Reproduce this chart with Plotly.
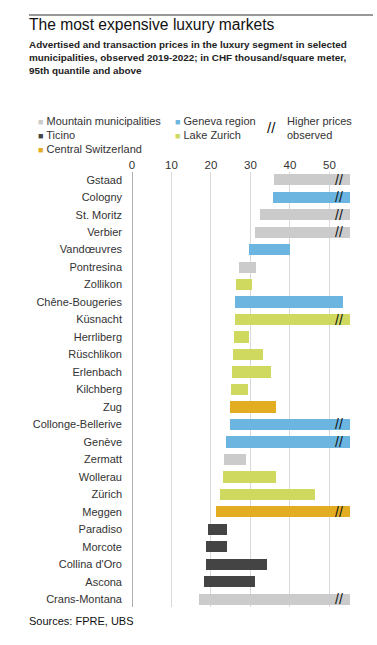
import plotly.graph_objects as go

municipalities = ["Gstaad", "Cologny", "St. Moritz", "Verbier", "Vandœuvres", "Pontresina",
                  "Zollikon", "Chêne-Bougeries", "Küsnacht", "Herrliberg", "Rüschlikon",
                  "Erlenbach", "Kilchberg", "Zug", "Collonge-Bellerive", "Genève", "Zermatt",
                  "Wollerau", "Zürich", "Meggen", "Paradiso", "Morcote", "Collina d'Oro",
                  "Ascona", "Crans-Montana"]
regions = ["Mountain", "Geneva", "Mountain", "Mountain", "Geneva", "Mountain",
           "Lake Zurich", "Geneva", "Lake Zurich", "Lake Zurich", "Lake Zurich",
           "Lake Zurich", "Lake Zurich", "Central", "Geneva", "Geneva", "Mountain",
           "Lake Zurich", "Lake Zurich", "Central", "Ticino", "Ticino", "Ticino",
           "Ticino", "Mountain"]
low = [36.0, 35.7, 32.5, 31.1, 29.7, 27.2, 26.3, 26.1, 26.0, 25.9, 25.6, 25.3, 25.1, 24.8,
       24.7, 23.8, 23.3, 23.0, 22.4, 21.3, 19.2, 18.7, 18.7, 18.3, 17.0]
high = [55.3, 55.3, 55.3, 55.3, 40.1, 31.5, 30.4, 53.4, 55.3, 29.5, 33.1, 35.3, 29.4, 36.5,
        55.3, 55.3, 28.9, 36.4, 46.3, 55.3, 24.1, 24.1, 34.1, 31.1, 55.3]
higher_observed = [True, True, True, True, False, False, False, False, True, False, False,
                   False, False, False, True, True, False, False, False, True, False, False,
                   False, False, True]

region_order = ["Mountain", "Geneva", "Ticino", "Lake Zurich", "Central"]
region_labels = {"Mountain": "Mountain municipalities", "Geneva": "Geneva region",
                 "Ticino": "Ticino", "Lake Zurich": "Lake Zurich", "Central": "Central Switzerland"}
region_colors = {"Mountain": "#cbcbcb", "Geneva": "#6cb5e0", "Ticino": "#444444",
                 "Lake Zurich": "#d0d95f", "Central": "#e3ad21"}

FONT = "Liberation Sans"
ML, MR, MT, MB = 132, 25, 172, 38
W, H = 377, 645
PW, PH = W - ML - MR, H - MT - MB

fig = go.Figure()
for r in region_order:
    idx = [i for i, g in enumerate(regions) if g == r]
    fig.add_trace(go.Bar(
        y=[municipalities[i] for i in idx],
        x=[high[i] - low[i] for i in idx],
        base=[low[i] for i in idx],
        orientation="h", width=0.64,
        marker=dict(color=region_colors[r], line=dict(width=0)),
        name=region_labels[r], showlegend=False, hoverinfo="skip"))

annotations = []
for i, m in enumerate(municipalities):
    if higher_observed[i]:
        annotations.append(dict(x=52.5, y=m, xref="x", yref="y", text="//", showarrow=False,
                                font=dict(family=FONT, size=14, color="#111111")))

fig.update_layout(
    width=W, height=H,
    margin=dict(l=ML, r=MR, t=MT, b=MB),
    paper_bgcolor="white", plot_bgcolor="white",
    barmode="overlay", bargap=0,
    font=dict(family=FONT, size=11, color="#333333"),
    xaxis=dict(range=[0, 55.7], side="top", tickvals=[0, 10, 20, 30, 40, 50],
               showgrid=True, gridcolor="#d9d9d9", gridwidth=1, zeroline=False,
               showline=False, ticks="", tickfont=dict(family=FONT, size=11.5, color="#333333"),
               fixedrange=True, automargin=False),
    yaxis=dict(categoryorder="array", categoryarray=municipalities, autorange=False,
               range=[24.44, -0.44], showgrid=False, zeroline=False, ticks="",
               ticklabelstandoff=9, tickfont=dict(family=FONT, size=11, color="#333333"),
               fixedrange=True, automargin=False),
    showlegend=False,
)

fig.add_shape(type="line", xref="x", yref="paper", x0=0, x1=0, y0=0, y1=1,
              line=dict(color="#777777", width=1.2))

def pa(px_x, px_y, text, size, color="#222222", xanchor="left", yanchor="middle"):
    annotations.append(dict(
        x=(px_x - ML) / PW, y=(H - MB - px_y) / PH,
        xref="paper", yref="paper", text=text, showarrow=False, xanchor=xanchor,
        yanchor=yanchor, align="left", font=dict(family=FONT, size=size, color=color)))

pa(27, 24, "The most expensive luxury markets", 15.6, "#111111")
pa(27, 57, "<b>Advertised and transaction prices in the luxury segment in selected<br>"
           "municipalities, observed 2019-2022; in CHF thousand/square meter,<br>"
           "95th quantile and above</b>", 9.9, "#222222")
pa(27, 621, "Sources: FPRE, UBS", 11, "#111111")

leg = [("Mountain", 36, 121.5), ("Geneva", 173, 121.5), ("Ticino", 36, 135),
       ("Lake Zurich", 173, 135), ("Central", 36, 148.5)]
for r, lx, ly in leg:
    pa(lx, ly, "<span style='color:%s;font-size:9px'>■</span> %s"
       % (region_colors[r], region_labels[r]), 11, "#333333")
pa(265, 128, "//", 15, "#111111")
pa(285, 128, "Higher prices<br>observed", 11, "#333333")

fig.update_layout(annotations=annotations)
fig.add_shape(type="line", xref="paper", yref="paper",
              x0=(29 - ML) / PW, x1=(373 - ML) / PW,
              y0=(H - MB - 15) / PH, y1=(H - MB - 15) / PH,
              line=dict(color="#333333", width=1))

fig.write_html("out.html", config={"displayModeBar": False},
               post_script="document.body.style.margin='0';")
